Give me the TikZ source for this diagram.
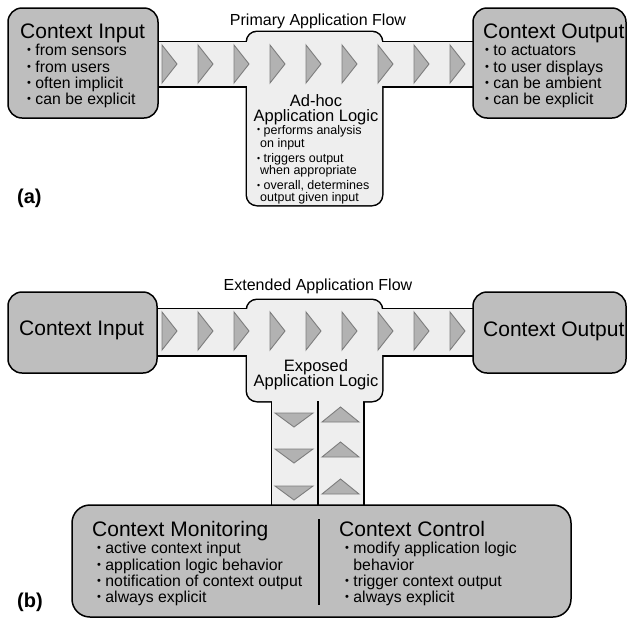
\documentclass[tikz,border=0pt]{standalone}
\usepackage{fontspec}
\setmainfont{Liberation Sans}
\usepackage{tikz}

\definecolor{boxgray}{RGB}{190,190,190}
\definecolor{flowgray}{RGB}{238,238,238}
\definecolor{trifill}{RGB}{178,178,178}
\definecolor{triline}{RGB}{125,125,125}
\newcommand{\bul}{\raisebox{0.12em}{\scalebox{0.7}{\textbullet}}\ }

\tikzset{
  ctxbox/.style={draw=black, line width=1.5pt, fill=boxgray, rounded corners=14pt},
  flowedge/.style={draw=black, line width=3pt},
  flowfill/.style={fill=flowgray},
  flowtri/.style={draw=triline, fill=trifill, line width=0.9pt},
  bigtitle/.style={anchor=base west, inner sep=0pt, font=\fontsize{21}{21}\selectfont},
  bullist/.style={anchor=north west, inner sep=0pt, align=left, font=\fontsize{15.8}{16}\selectfont},
  smalllist/.style={anchor=north west, inner sep=0pt, align=left, font=\fontsize{12.5}{12}\selectfont},
  logictitle/.style={anchor=north, inner sep=0pt, align=center, font=\fontsize{16.5}{15.5}\selectfont},
  flowlabel/.style={anchor=base, inner sep=0pt, font=\fontsize{16}{16}\selectfont},
  panellabel/.style={anchor=base west, inner sep=0pt, font=\fontsize{20}{20}\selectfont\bfseries}
}

\begin{document}
\begin{tikzpicture}[x=1pt,y=-1pt]
    \useasboundingbox (0,0) rectangle (627,619);

    % (a) primary flow
    \path[flowedge, rounded corners=10pt] (247,32) rectangle (382,205);
    \path[flowedge] (150,42) rectangle (480,86);
    \path[flowfill, rounded corners=10pt] (247,32) rectangle (382,205);
    \path[flowfill] (150,42) rectangle (480,86);
    \draw[ctxbox] (8,8) rectangle (158,118);
    \draw[ctxbox] (473,8) rectangle (626,118);
    \foreach \i in {0,...,8}
      \draw[flowtri] ({162+36*\i},45) -- ({177+36*\i},64) -- ({162+36*\i},83) -- cycle;

    \node (flowA) [flowlabel] at (318,25) {Primary Application Flow};
    \node (inA) [bigtitle] at (20,38) {Context Input};
    \node (inAlist) [bullist] at (27,43.7) {\strut\bul from sensors\\ \bul from users\\ \bul often implicit\\ \bul can be explicit};
    \node (outA) [bigtitle] at (483,38) {Context Output};
    \node (outAlist) [bullist] at (485,43.8) {\strut\bul to actuators\\ \bul to user displays\\ \bul can be ambient\\ \bul can be explicit};
    \node (logicA) [logictitle] at (316,94.2) {Ad-hoc\\Application Logic};
    \node (logicAlist) [smalllist] at (257,124.9) {\strut\bul performs analysis\\ \hspace*{3pt}on input\\[3pt] \bul triggers output\\ \hspace*{3pt}when appropriate\\[3pt] \bul overall, determines\\ \hspace*{3pt}output given input};
    \node (panA) [panellabel] at (17,203) {(a)};

    % (b) extended flow
    \path[flowedge, rounded corners=10pt] (247,300) rectangle (382,401);
    \path[flowedge] (150,309) rectangle (480,355);
    \path[flowedge] (272,395) rectangle (363,510);
    \path[flowfill, rounded corners=10pt] (247,300) rectangle (382,401);
    \path[flowfill] (150,309) rectangle (480,355);
    \path[flowfill] (272,395) rectangle (363,510);
    \draw[line width=1.5pt] (318,401) -- (318,510);
    \draw[ctxbox] (8,292) rectangle (157,373);
    \draw[ctxbox] (473,292) rectangle (626,373);
    \draw[ctxbox, rounded corners=18pt] (72,505) rectangle (571,617);
    \draw[line width=1.2pt] (319,519) -- (319,605);
    \foreach \i in {0,...,8}
      \draw[flowtri] ({162+36*\i},312) -- ({177+36*\i},331) -- ({162+36*\i},350) -- cycle;
    \foreach \y in {413,449,486}
      \draw[flowtri] (275,\y) -- (313,\y) -- (294,\y+14) -- cycle;
    \foreach \y in {422,457,494}
      \draw[flowtri] (322,\y) -- (359,\y) -- (340.5,\y-15) -- cycle;

    \node (flowB) [flowlabel] at (318,290) {Extended Application Flow};
    \node (inB) [bigtitle] at (19,335) {Context Input};
    \node (outB) [bigtitle] at (483,336) {Context Output};
    \node (logicB) [logictitle] at (316,359) {Exposed\\Application Logic};
    \node (mon) [bigtitle] at (92,536) {Context Monitoring};
    \node (monlist) [bullist] at (97,541.8) {\strut\bul active context input\\ \bul application logic behavior\\ \bul notification of context output\\ \bul always explicit};
    \node (ctl) [bigtitle] at (339,536) {Context Control};
    \node (ctllist) [bullist] at (345,541.7) {\strut\bul modify application logic\\ \phantom{\bul}behavior\\ \bul trigger context output\\ \bul always explicit};
    \node (panB) [panellabel] at (17,607) {(b)};
\end{tikzpicture}
\end{document}
